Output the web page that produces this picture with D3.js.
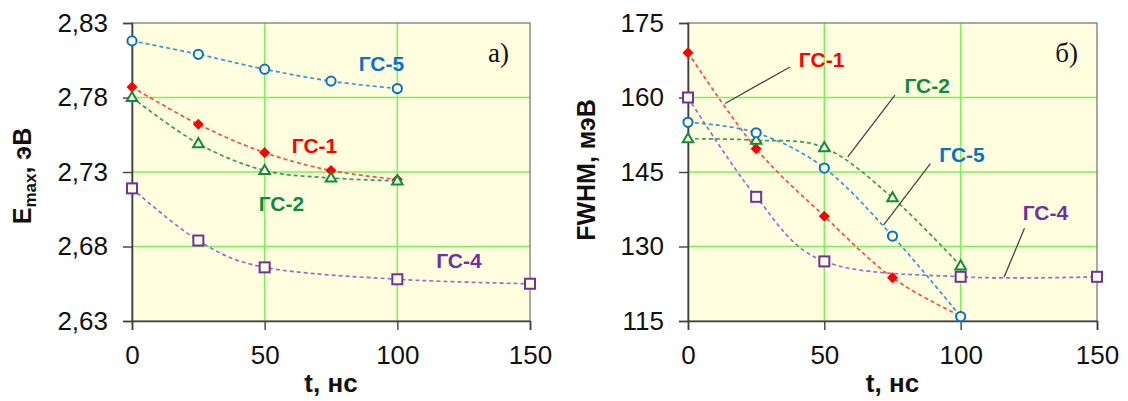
<!DOCTYPE html>
<html>
<head>
<meta charset="utf-8">
<script src="https://cdn.jsdelivr.net/npm/d3@7/dist/d3.min.js"></script>
<style>
  html, body { margin: 0; padding: 0; background: #ffffff; }
  svg { display: block; }
</style>
</head>
<body>
<svg id="chart" width="1128" height="401"></svg>
<script>
// Time delay, ns
const times = [0, 25, 50, 75, 100];
const timesGS4 = [0, 25, 50, 100, 150];
const seriesNames = ["ГС-1", "ГС-2", "ГС-4", "ГС-5"];

// Peak energy E_max, eV
const emaxGS1 = [2.787, 2.762, 2.743, 2.731, 2.725];
const emaxGS2 = [2.780, 2.749, 2.731, 2.726, 2.724];
const emaxGS4 = [2.719, 2.684, 2.666, 2.658, 2.655];
const emaxGS5 = [2.818, 2.809, 2.799, 2.791, 2.786];

// Line width FWHM, meV
const fwhmGS1 = [169.0, 149.7, 136.1, 123.7, 116.0];
const fwhmGS2 = [151.7, 151.4, 149.9, 139.8, 126.1];
const fwhmGS4 = [160.0, 140.0, 127.0, 123.9, 123.9];
const fwhmGS5 = [155.0, 152.9, 145.8, 132.1, 115.9];

const xTicks = [0, 50, 100, 150];
const emaxTicks = [2.63, 2.68, 2.73, 2.78, 2.83];
const fwhmTicks = [115, 130, 145, 160, 175];

const locale = d3.formatLocale({ decimal: ",", thousands: " ", grouping: [3], currency: ["", ""] });

const styles = {
  "ГС-1": { marker: "diamond", color: "#ff0000", line: "#ff4a4a", text: "#ff0000" },
  "ГС-2": { marker: "triangle", color: "#128a3c", line: "#3a9a5c", text: "#128a3c" },
  "ГС-4": { marker: "square", color: "#7030a0", line: "#9a6ccc", text: "#7030a0" },
  "ГС-5": { marker: "circle", color: "#0a70c8", line: "#3d93d8", text: "#0a70c8" }
};

const BG = "#ffffe0";
const GRID = "#7cf05a";
const AXIS = "#404040";

const svg = d3.select("#chart");

function pairs(ts, values) {
  return values.map((v, i) => [ts[i], v]);
}

function drawPanel(opt) {
  const g = svg.append("g");
  const x = d3.scaleLinear().domain([0, 150]).range([opt.left, opt.right]);
  const y = d3.scaleLinear().domain(opt.domain).range([321, 23]);

  // plot background
  g.append("rect")
    .attr("x", x(0)).attr("y", y(opt.domain[1]))
    .attr("width", x(150) - x(0)).attr("height", y(opt.domain[0]) - y(opt.domain[1]))
    .attr("fill", BG);

  // grid
  g.append("g").selectAll("line").data(opt.yTicks.slice(1, -1)).join("line")
    .attr("x1", x(0)).attr("x2", x(150))
    .attr("y1", d => y(d)).attr("y2", d => y(d))
    .attr("stroke", GRID).attr("stroke-width", 1.5);
  g.append("g").selectAll("line").data(xTicks.slice(1, -1)).join("line")
    .attr("x1", d => x(d)).attr("x2", d => x(d))
    .attr("y1", y(opt.domain[0])).attr("y2", y(opt.domain[1]))
    .attr("stroke", GRID).attr("stroke-width", 1.5);

  // frame
  g.append("rect")
    .attr("x", x(0)).attr("y", y(opt.domain[1]))
    .attr("width", x(150) - x(0)).attr("height", y(opt.domain[0]) - y(opt.domain[1]))
    .attr("fill", "none").attr("stroke", "#707070").attr("stroke-width", 1.2);

  // axes
  const yAxis = g.append("g").attr("transform", `translate(${x(0)},0)`)
    .call(d3.axisLeft(y).tickValues(opt.yTicks).tickSize(9).tickPadding(15).tickFormat(opt.format));
  const xAxis = g.append("g").attr("transform", `translate(0,${y(opt.domain[0])})`)
    .call(d3.axisBottom(x).tickValues(xTicks).tickSize(9).tickPadding(16).tickFormat(d3.format("d")));
  [yAxis, xAxis].forEach(a => {
    a.select(".domain").attr("stroke", AXIS).attr("stroke-width", 1.6);
    a.selectAll(".tick line").attr("stroke", AXIS).attr("stroke-width", 1.4);
    a.selectAll(".tick text")
      .attr("font-family", "'Liberation Sans', Arial, sans-serif")
      .attr("font-size", 26).attr("fill", "#111");
  });

  // series lines
  const line = d3.line().x(d => x(d[0])).y(d => y(d[1])).curve(d3.curveCatmullRom.alpha(0));
  opt.series.forEach(s => {
    g.append("path").datum(pairs(s.times, s.values))
      .attr("d", line)
      .attr("fill", "none")
      .attr("stroke", styles[s.name].line)
      .attr("stroke-width", 1.7)
      .attr("stroke-dasharray", "4,3");
  });

  // markers
  opt.series.forEach(s => {
    const st = styles[s.name];
    const mg = g.append("g");
    const pts = pairs(s.times, s.values);
    if (st.marker === "circle") {
      mg.selectAll("circle").data(pts).join("circle")
        .attr("cx", d => x(d[0])).attr("cy", d => y(d[1])).attr("r", 4.6)
        .attr("fill", BG).attr("stroke", st.color).attr("stroke-width", 2);
    } else if (st.marker === "square") {
      mg.selectAll("rect").data(pts).join("rect")
        .attr("x", d => x(d[0]) - 5).attr("y", d => y(d[1]) - 5)
        .attr("width", 10).attr("height", 10)
        .attr("fill", BG).attr("stroke", st.color).attr("stroke-width", 2);
    } else if (st.marker === "triangle") {
      mg.selectAll("path").data(pts).join("path")
        .attr("d", d3.symbol().type(d3.symbolTriangle).size(48))
        .attr("transform", d => `translate(${x(d[0])},${y(d[1]) + 0.5})`)
        .attr("fill", BG).attr("stroke", st.color).attr("stroke-width", 2);
    } else {
      // square diamond (rotated square)
      mg.selectAll("rect").data(pts).join("rect")
        .attr("x", -3.9).attr("y", -3.9).attr("width", 7.8).attr("height", 7.8)
        .attr("transform", d => `translate(${x(d[0])},${y(d[1])}) rotate(45)`)
        .attr("fill", st.color);
    }
  });

  // leader lines
  (opt.leaders || []).forEach(l => {
    g.append("line")
      .attr("x1", x(l[0])).attr("y1", y(l[1]))
      .attr("x2", x(l[2])).attr("y2", y(l[3]))
      .attr("stroke", "#444").attr("stroke-width", 1.3);
  });

  // series labels
  opt.labels.forEach(l => {
    g.append("text")
      .attr("x", x(l.t)).attr("y", y(l.v))
      .attr("text-anchor", "middle")
      .attr("font-family", "'Liberation Sans', Arial, sans-serif")
      .attr("font-weight", "bold").attr("font-size", 21)
      .attr("fill", styles[l.name].text)
      .text(l.name);
  });

  // panel letter
  g.append("text")
    .attr("x", opt.letterX).attr("y", 62)
    .attr("text-anchor", "end")
    .attr("font-family", "'Liberation Serif', 'Times New Roman', serif")
    .attr("font-size", 27).attr("fill", "#111")
    .text(opt.letter);

  // x axis title
  g.append("text")
    .attr("x", (x(0) + x(150)) / 2).attr("y", 392)
    .attr("text-anchor", "middle")
    .attr("font-family", "'Liberation Sans', Arial, sans-serif")
    .attr("font-weight", "bold").attr("font-size", 26).attr("fill", "#111")
    .text("t, нс");

  // y axis title
  const yt = g.append("text")
    .attr("transform", `translate(${opt.titleX},${opt.titleY}) rotate(-90)`)
    .attr("text-anchor", "middle")
    .attr("font-family", "'Liberation Sans', Arial, sans-serif")
    .attr("font-weight", "bold").attr("font-size", 25).attr("fill", "#111");
  opt.title(yt);
}

drawPanel({
  left: 132, right: 530,
  domain: [2.63, 2.83],
  yTicks: emaxTicks,
  format: locale.format(".2f"),
  series: [
    { name: "ГС-1", times: times, values: emaxGS1 },
    { name: "ГС-2", times: times, values: emaxGS2 },
    { name: "ГС-4", times: timesGS4, values: emaxGS4 },
    { name: "ГС-5", times: times, values: emaxGS5 }
  ],
  labels: [
    { name: "ГС-5", t: 94, v: 2.798 },
    { name: "ГС-1", t: 68.8, v: 2.743 },
    { name: "ГС-2", t: 56.3, v: 2.704 },
    { name: "ГС-4", t: 123.2, v: 2.6655 }
  ],
  letter: "а)", letterX: 509,
  titleX: 31, titleY: 176,
  title: t => {
    t.append("tspan").text("E");
    t.append("tspan").attr("font-size", 17).attr("dy", 5).text("max");
    t.append("tspan").attr("dy", -5).text(", эВ");
  }
});

drawPanel({
  left: 688, right: 1097,
  domain: [115, 175],
  yTicks: fwhmTicks,
  format: d3.format("d"),
  series: [
    { name: "ГС-1", times: times, values: fwhmGS1 },
    { name: "ГС-2", times: times, values: fwhmGS2 },
    { name: "ГС-4", times: timesGS4, values: fwhmGS4 },
    { name: "ГС-5", times: times, values: fwhmGS5 }
  ],
  labels: [
    { name: "ГС-1", t: 49.0, v: 166.1 },
    { name: "ГС-2", t: 87.7, v: 160.9 },
    { name: "ГС-5", t: 100.5, v: 147.0 },
    { name: "ГС-4", t: 131.1, v: 135.3 }
  ],
  leaders: [
    [37.4, 166.15, 13.6, 158.8],
    [75.9, 160.46, 58.6, 148.05],
    [88.9, 146.7, 71.7, 134.3],
    [123.4, 133.65, 115.9, 123.8]
  ],
  letter: "б)", letterX: 1078,
  titleX: 595, titleY: 170,
  title: t => { t.text("FWHM, мэВ"); }
});
</script>
</body>
</html>
